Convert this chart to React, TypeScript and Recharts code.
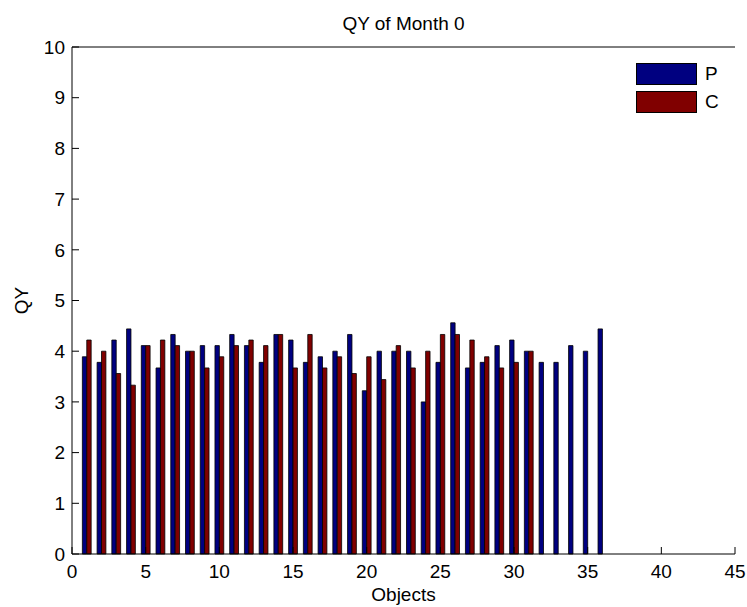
import { BarChart, Bar, XAxis, YAxis, Legend } from 'recharts';

// object index on the x axis
const objects = [
  1, 2, 3, 4, 5, 6, 7, 8, 9, 10, 11, 12, 13, 14, 15, 16, 17, 18,
  19, 20, 21, 22, 23, 24, 25, 26, 27, 28, 29, 30, 31, 32, 33, 34, 35, 36,
];

const pValues = [
  3.89, 3.78, 4.22, 4.44, 4.11, 3.67, 4.33, 4.0, 4.11, 4.11, 4.33, 4.11,
  3.78, 4.33, 4.22, 3.78, 3.89, 4.0, 4.33, 3.22, 4.0, 4.0, 4.0, 3.0,
  3.78, 4.56, 3.67, 3.78, 4.11, 4.22, 4.0, 3.78, 3.78, 4.11, 4.0, 4.44,
];

const cValues: (number | null)[] = [
  4.22, 4.0, 3.56, 3.33, 4.11, 4.22, 4.11, 4.0, 3.67, 3.89, 4.11, 4.22,
  4.11, 4.33, 3.67, 4.33, 3.67, 3.89, 3.56, 3.89, 3.44, 4.11, 3.67, 4.0,
  4.33, 4.33, 4.22, 3.89, 3.67, 3.78, 4.0, null, null, null, null, null,
];

const seriesNames = ['P', 'C'];
const xTicks = [0, 5, 10, 15, 20, 25, 30, 35, 40, 45];
const yTicks = [0, 1, 2, 3, 4, 5, 6, 7, 8, 9, 10];

const data = objects.map((obj, i) => ({ obj, P: pValues[i], C: cValues[i] }));

const font = "'Liberation Sans', Arial, sans-serif";
const tickStyle = { fill: '#000', fontSize: 19, fontFamily: font };

function LegendBox(props: any) {
  const payload = [...(props.payload || [])].sort(
    (a: any, b: any) => seriesNames.indexOf(a.value) - seriesNames.indexOf(b.value)
  );
  return (
    <div style={{ fontFamily: font, fontSize: 19 }}>
      {payload.map((entry: any) => (
        <div key={entry.value} style={{ display: 'flex', alignItems: 'center', height: 28 }}>
          <div
            style={{
              width: 59,
              height: 20,
              background: entry.color,
              border: '1px solid #000',
              marginRight: 8,
            }}
          />
          <span style={{ color: '#000' }}>{entry.value}</span>
        </div>
      ))}
    </div>
  );
}

export default function App() {
  return (
    <div style={{ position: 'absolute', left: 0, top: 0, background: '#fff', fontFamily: font }}>
      <BarChart
        width={747}
        height={607}
        data={data}
        margin={{ top: 17, right: 12, bottom: 23, left: 12 }}
        barGap={0}
        barSize={4.4}
      >
        <XAxis
          xAxisId="bottom"
          dataKey="obj"
          type="number"
          domain={[0, 45]}
          ticks={xTicks}
          interval={0}
          height={30}
          stroke="#000"
          tickSize={-7}
          tickMargin={18}
          tick={tickStyle}
          label={{ value: 'Objects', position: 'bottom', offset: 4, style: tickStyle }}
        />
        <XAxis
          xAxisId="top"
          orientation="top"
          dataKey="obj"
          type="number"
          domain={[0, 45]}
          ticks={xTicks}
          interval={0}
          height={30}
          stroke="#000"
          tickSize={-7}
          tick={false}
          label={{ value: 'QY of Month 0', position: 'insideTop', offset: 0, style: tickStyle }}
        />
        <YAxis
          yAxisId="left"
          type="number"
          domain={[0, 10]}
          ticks={yTicks}
          interval={0}
          width={60}
          stroke="#000"
          tickSize={-7}
          tickMargin={14}
          tick={tickStyle}
          label={{
            value: 'QY',
            angle: -90,
            position: 'insideLeft',
            offset: 9,
            style: { ...tickStyle, textAnchor: 'middle' },
          }}
        />
        <YAxis
          yAxisId="right"
          orientation="right"
          type="number"
          domain={[0, 10]}
          ticks={yTicks}
          interval={0}
          width={0}
          stroke="#000"
          tickSize={-7}
          tick={false}
        />
        <Legend
          layout="vertical"
          align="center"
          verticalAlign="middle"
          content={<LegendBox />}
          wrapperStyle={{ left: 636, top: 60, width: 'auto' }}
        />
        <Bar
          xAxisId="bottom"
          yAxisId="left"
          dataKey="P"
          name="P"
          fill="#000080"
          stroke="#000"
          strokeWidth={0.8}
          isAnimationActive={false}
        />
        <Bar
          xAxisId="bottom"
          yAxisId="left"
          dataKey="C"
          name="C"
          fill="#800000"
          stroke="#000"
          strokeWidth={0.8}
          isAnimationActive={false}
        />
      </BarChart>
    </div>
  );
}
